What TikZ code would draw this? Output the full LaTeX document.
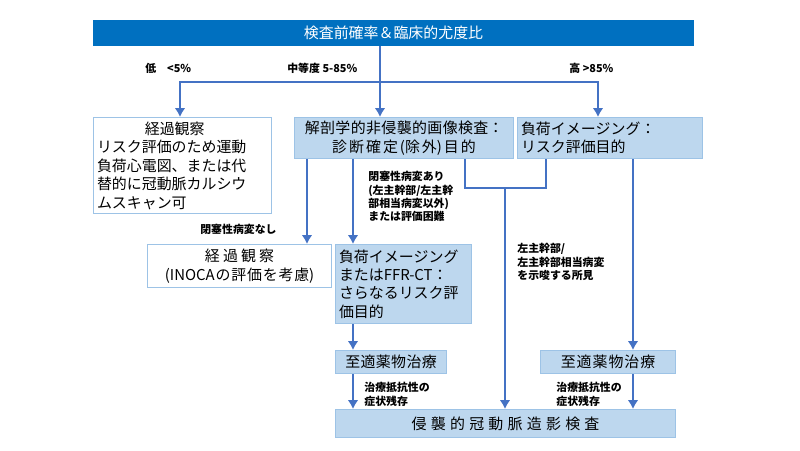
\documentclass[tikz,border=0pt]{standalone}
\usepackage{fontspec}
\setmainfont{Noto Sans CJK JP}
\XeTeXlinebreaklocale "ja"
\XeTeXlinebreakskip=0pt plus 1pt
\usetikzlibrary{calc, positioning, arrows.meta}
\definecolor{titleblue}{HTML}{0070C0}
\definecolor{boxfill}{HTML}{BDD7EE}
\definecolor{boxline}{HTML}{9DC3E6}
\definecolor{arrowblue}{HTML}{4472C4}
\tikzset{
  box/.style={draw=boxline, fill=boxfill, line width=0.6pt, inner sep=2pt, font=\fontsize{8.5}{10.5}\selectfont},
  wbox/.style={box, fill=white},
  flow/.style={draw=arrowblue, line width=1.6pt, -{Latex[length=5pt,width=6pt]}},
  link/.style={draw=arrowblue, line width=1.6pt},
  tag/.style={font=\bfseries\fontsize{6.2}{7.6}\selectfont, inner sep=0pt, align=left}
}
\begin{document}
\begin{tikzpicture}[x=0.02cm, y=-0.02cm]
  \useasboundingbox (0,0) rectangle (800,450);
  \node[box, fill=titleblue, draw=titleblue, text=white, minimum width=600*0.02cm, minimum height=25*0.02cm, anchor=north west] (pretest) at (93,20) {検査前確率＆臨床的尤度比};

  \node[wbox, text width=171*0.02cm, minimum height=96*0.02cm, anchor=north west, align=left] (lowbox) at (93,117) {\hspace*{3.2em}経過観察\\リスク評価のため運動\\負荷心電図、または代\\替的に冠動脈カルシウ\\ムスキャン可};
  \node[box, text width=212*0.02cm, minimum height=41*0.02cm, anchor=north west, align=center] (anat) at (294,117) {解剖学的非侵襲的画像検査：\\診断確定(除外)目的};
  \node[box, text width=178*0.02cm, minimum height=41*0.02cm, anchor=north west, align=left] (stress) at (517,117) {負荷イメージング：\\リスク評価目的};
  \node[wbox, text width=177*0.02cm, minimum height=43*0.02cm, anchor=north west, align=center] (inoca) at (147,244) {経過観察\\(INOCAの評価を考慮)};
  \node[box, text width=129*0.02cm, minimum height=79*0.02cm, anchor=north west, align=left] (ffr) at (335,244) {負荷イメージング\\またはFFR-CT：\\さらなるリスク評\\価目的};
  \node[box, text width=104*0.02cm, minimum height=23*0.02cm, anchor=north west, align=center] (omtl) at (335,350) {至適薬物治療};
  \node[box, text width=128*0.02cm, minimum height=23*0.02cm, anchor=north west, align=center] (omtr) at (540,350) {至適薬物治療};
  \node[box, text width=333*0.02cm, minimum height=28*0.02cm, anchor=north west, align=center] (ica) at (335,409) {侵襲的冠動脈造影検査};

  % probability labels
  \node[tag, anchor=west] (lowtag) at (145,68) {低\quad <5\%};
  \node[tag, anchor=west] (midtag) at (287,68) {中等度 5-85\%};
  \node[tag, anchor=west] (hightag) at (569,68) {高 >85\%};

  % branches
  \coordinate (split) at (380,82);
  \draw[link] (pretest.south -| split) -- (split);
  \draw[flow] (split) -| (lowbox.north -| 180,0);
  \draw[flow] (split) -- (anat.north -| split);
  \draw[flow] (split) -| (stress.north -| 598,0);

  \draw[flow] (anat.south -| 307,0) -- (inoca.north -| 307,0);
  \draw[flow] (anat.south -| 353,0) -- (ffr.north -| 353,0);
  \coordinate (join) at (505,188);
  \draw[link] (anat.south -| 465,0) |- (join) -| (stress.south -| 546,0);
  \draw[flow] (join) -- (ica.north -| join);
  \draw[flow] (stress.south -| 633,0) -- (omtr.north -| 633,0);
  \draw[flow] (ffr.south -| 353,0) -- (omtl.north -| 353,0);
  \draw[flow] (omtl.south -| 353,0) -- (ica.north -| 353,0);
  \draw[flow] (omtr.south -| 633,0) -- (ica.north -| 633,0);

  % condition labels
  \node[tag, anchor=west] (noocc) at (200,229) {閉塞性病変なし};
  \node[tag, anchor=north west] (occ) at (368,171) {閉塞性病変あり\\(左主幹部/左主幹\\部相当病変以外)\\または評価困難};
  \node[tag, anchor=north west] (lmtag) at (517,243) {左主幹部/\\左主幹部相当病変\\を示唆する所見};
  \node[tag, anchor=north west] (refl) at (364,382) {治療抵抗性の\\症状残存};
  \node[tag, anchor=north west] (refr) at (556,382) {治療抵抗性の\\症状残存};
\end{tikzpicture}
\end{document}
